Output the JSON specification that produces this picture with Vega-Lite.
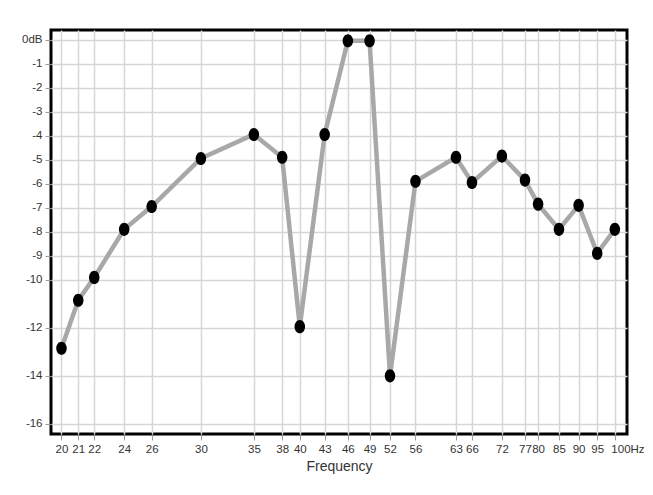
{
  "$schema": "https://vega.github.io/schema/vega-lite/v6.json",
  "description": "Frequency response in dB, 20 to 100 Hz.",
  "width": 576,
  "height": 404,
  "autosize": "none",
  "padding": {"left": 51, "top": 30, "right": 26, "bottom": 61},
  "background": "#ffffff",
  "config": {
    "view": {"stroke": "#000000", "strokeWidth": 3, "fill": "#ffffff"},
    "axis": {
      "labelFont": "Liberation Sans",
      "labelFontSize": 11.5,
      "labelColor": "#333333",
      "titleFont": "Liberation Sans",
      "titleFontSize": 14,
      "titleFontWeight": "normal",
      "titleColor": "#333333",
      "domain": false,
      "grid": true,
      "gridColor": "#d6d6d6",
      "gridWidth": 1.5,
      "tickColor": "#9a9a9a",
      "tickSize": 6,
      "labelOverlap": false
    }
  },
  "data": {
    "values": [
      {"freq": 20, "db": -12.85},
      {"freq": 21, "db": -10.85},
      {"freq": 22, "db": -9.9},
      {"freq": 24, "db": -7.9},
      {"freq": 26, "db": -6.95},
      {"freq": 30, "db": -4.95},
      {"freq": 35, "db": -3.95},
      {"freq": 38, "db": -4.9},
      {"freq": 40, "db": -11.95},
      {"freq": 43, "db": -3.95},
      {"freq": 46, "db": -0.05},
      {"freq": 49, "db": -0.05},
      {"freq": 52, "db": -14},
      {"freq": 56, "db": -5.9},
      {"freq": 63, "db": -4.9},
      {"freq": 66, "db": -5.95},
      {"freq": 72, "db": -4.85},
      {"freq": 77, "db": -5.85},
      {"freq": 80, "db": -6.85},
      {"freq": 85, "db": -7.9},
      {"freq": 90, "db": -6.9},
      {"freq": 95, "db": -8.9},
      {"freq": 100, "db": -7.9}
    ]
  },
  "encoding": {
    "x": {
      "field": "freq",
      "type": "quantitative",
      "scale": {"type": "log", "domain": [19.4, 103.6], "nice": false},
      "axis": {
        "title": "Frequency",
        "titlePadding": 5,
        "labelPadding": 3,
        "values": [20, 21, 22, 24, 26, 30, 35, 38, 40, 43, 46, 49, 52, 56, 63, 66, 72, 77, 80, 85, 90, 95, 100],
        "labelExpr": "datum.value == 100 ? '100Hz' : '' + datum.value",
        "labelAlign": {"condition": {"test": "datum.value == 100", "value": "left"}, "value": "center"},
        "labelOffset": {"condition": {"test": "datum.value == 100", "value": -4}, "value": 0}
      }
    },
    "y": {
      "field": "db",
      "type": "quantitative",
      "scale": {"domain": [-16.42, 0.4], "nice": false, "zero": false},
      "axis": {
        "title": null,
        "labelPadding": 3,
        "values": [0, -1, -2, -3, -4, -5, -6, -7, -8, -9, -10, -12, -14, -16],
        "labelExpr": "datum.value == 0 ? '0dB' : '' + datum.value"
      }
    }
  },
  "layer": [
    {
      "mark": {"type": "line", "color": "#a8a8a8", "strokeWidth": 4.5}
    },
    {
      "mark": {
        "type": "point",
        "filled": true,
        "color": "#000000",
        "opacity": 1,
        "size": 110,
        "shape": "M0,-1.25A1,1.25 0 1,0 0,1.25A1,1.25 0 1,0 0,-1.25Z"
      }
    }
  ]
}
